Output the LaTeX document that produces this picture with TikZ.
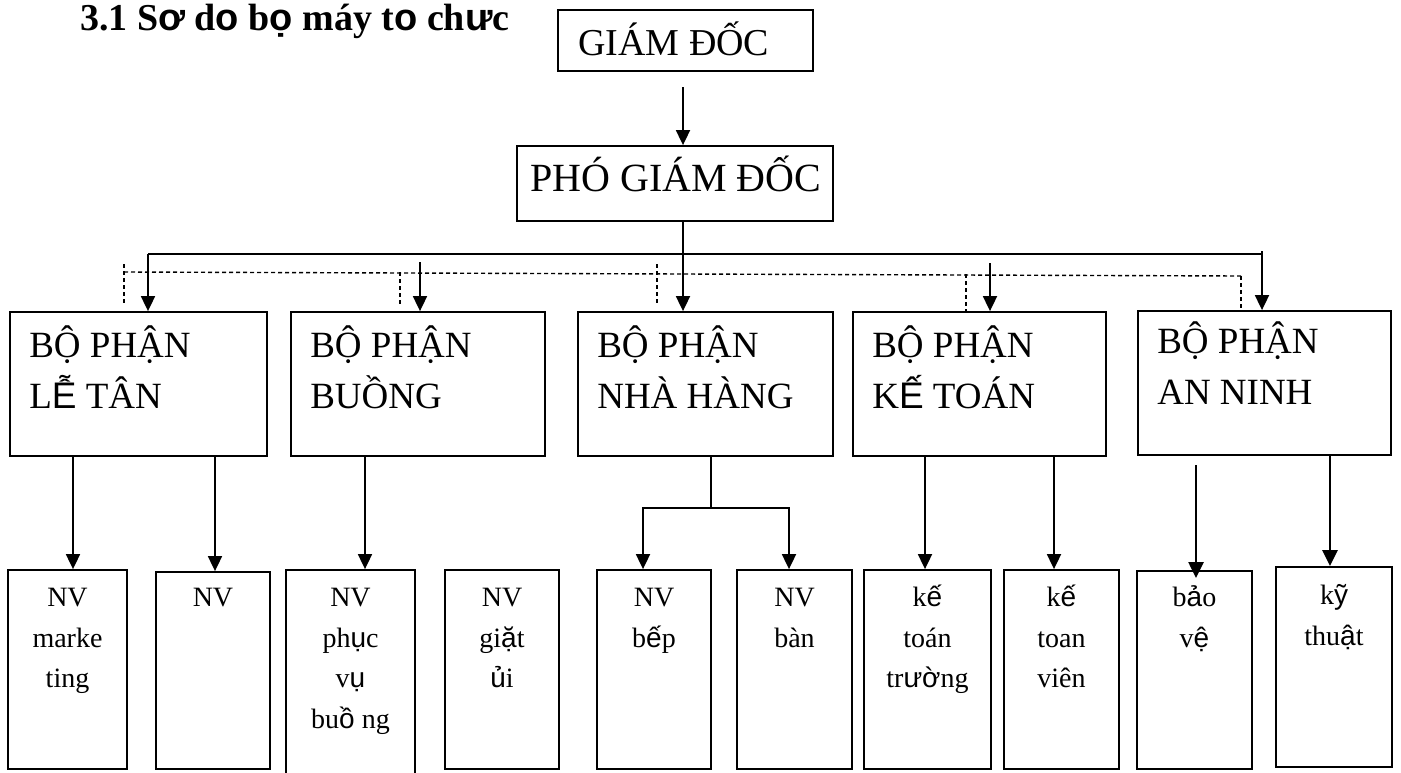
\documentclass[tikz,border=0pt]{standalone}
\usepackage{fontspec}
\setmainfont{Liberation Serif}
\newfontfamily\fb{Liberation Sans}
\usetikzlibrary{arrows.meta,fit}

\tikzset{
  box/.style={draw, line width=1.8pt, inner sep=0pt},
  wire/.style={line width=1.8pt},
  link/.style={wire, -{Triangle[width=14pt,length=15pt]}},
  heavylink/.style={line width=2.6pt, -{Triangle[width=15pt,length=16pt]}},
  guide/.style={line width=1.4pt, dash pattern=on 4pt off 3pt},
  headtext/.style={font=\fontsize{38}{46}\selectfont, inner sep=0pt, anchor=base west},
  dept/.style={font=\fontsize{37}{51}\selectfont, inner sep=0pt, anchor=north west, align=left},
  staff/.style={font=\fontsize{28}{40.5}\selectfont, inner sep=0pt, anchor=north, align=center},
}

\begin{document}
\begin{tikzpicture}[x=1pt,y=-1pt]
\useasboundingbox (0,0) rectangle (1401,772);

% heading
\node[font=\fontsize{38}{44}\selectfont\bfseries, anchor=base west, inner sep=0pt] (title) at (80,30)
  {3.1 S{\fb ơ} d{\fb o} b{\fb ọ} máy t{\fb o} ch{\fb ư}c};

% management
\node[box, fit={(558,10) (813,71)}] (gd) {};
\node[headtext] (gdt) at (578,55) {GIÁM ĐỐC};
\node[box, fit={(517,146) (833,221)}] (pgd) {};
\node[headtext, font=\fontsize{40}{46}\selectfont] (pgdt) at (530,191) {PHÓ GIÁM ĐỐC};

% departments
\node[box, fit={(10,312) (267,456)}]   (d1) {};
\node[box, fit={(291,312) (545,456)}]  (d2) {};
\node[box, fit={(578,312) (833,456)}]  (d3) {};
\node[box, fit={(853,312) (1106,456)}] (d4) {};
\node[box, fit={(1138,311) (1391,455)}] (d5) {};
\node[dept] (d1t) at ([shift={(20,10)}]d1.north west) {\strut BỘ PHẬN\\L{\fb Ễ} TÂN};
\node[dept] (d2t) at ([shift={(20,10)}]d2.north west) {\strut BỘ PHẬN\\BUỒNG};
\node[dept] (d3t) at ([shift={(20,10)}]d3.north west) {\strut BỘ PHẬN\\NHÀ HÀNG};
\node[dept] (d4t) at ([shift={(20,10)}]d4.north west) {\strut BỘ PHẬN\\K{\fb Ế} TOÁN};
\node[dept] (d5t) at ([shift={(20,7)}]d5.north west) {\strut BỘ PHẬN\\AN NINH};

% staff
\node[box, fit={(8,570) (127,769)}]     (sA) {};
\node[box, fit={(156,572) (270,769)}]   (sB) {};
\node[box, fit={(286,570) (415,780)}]   (sC) {};
\node[box, fit={(445,570) (559,769)}]   (sD) {};
\node[box, fit={(597,570) (711,769)}]   (sE) {};
\node[box, fit={(737,570) (852,769)}]   (sF) {};
\node[box, fit={(864,570) (991,769)}]   (sG) {};
\node[box, fit={(1004,570) (1119,769)}] (sH) {};
\node[box, fit={(1137,571) (1252,769)}] (sI) {};
\node[box, fit={(1276,567) (1392,767)}] (sJ) {};
\node[staff] (sAt) at ([yshift=-9pt]sA.north) {\strut NV\\marke\\ting};
\node[staff] (sBt) at ([yshift=-7pt]sB.north) {\strut NV};
\node[staff] (sCt) at ([yshift=-9pt]sC.north) {\strut NV\\ph{\fb ụ}c\\v{\fb ụ}\\bu{\fb ồ} ng};
\node[staff] (sDt) at ([yshift=-9pt]sD.north) {\strut NV\\gi{\fb ặ}t\\{\fb ủ}i};
\node[staff] (sEt) at ([yshift=-9pt]sE.north) {\strut NV\\b{\fb ế}p};
\node[staff] (sFt) at ([yshift=-9pt]sF.north) {\strut NV\\bàn};
\node[staff] (sGt) at ([yshift=-9pt]sG.north) {\strut k{\fb ế}\\toán\\tr{\fb ườ}ng};
\node[staff] (sHt) at ([yshift=-9pt]sH.north) {\strut k{\fb ế}\\toan\\viên};
\node[staff] (sIt) at ([yshift=-8pt]sI.north) {\strut b{\fb ả}o\\v{\fb ệ}};
\node[staff] (sJt) at ([yshift=-10pt]sJ.north) {\strut k{\fb ỹ}\\thu{\fb ậ}t};

% top of the chart
\coordinate (gdout) at (683,87);
\draw[link] (gdout) -- (gdout |- pgd.north);
\coordinate (hub) at (683,254);
\coordinate (busL) at (148,254);
\coordinate (busR) at (1262,254);
\draw[wire] (pgd.south -| hub) -- (hub);
\draw[wire] (busL) -- (busR);
\draw[link] (hub) -- (hub |- d3.north);
\draw[link] (busL) -- (busL |- d1.north);
\draw[link] ([yshift=3pt]busR) -- (busR |- d5.north);
\coordinate (s2) at (420,262);
\draw[link] (s2) -- (s2 |- d2.north);
\coordinate (s4) at (990,263);
\draw[link] (s4) -- (s4 |- d4.north);

% dashed guide line above the departments
\coordinate (gL) at (124,272);
\coordinate (gR) at (1241,276);
\draw[guide] (gL) -- (gR);
\foreach \x/\a/\b in {124/264/305, 400/272/305, 657/264/305, 966/274/312, 1241/276/308}
  \draw[guide] (\x,\a) -- (\x,\b);

% departments to staff
\coordinate (tA) at (73,0);
\coordinate (tB) at (215,0);
\coordinate (tC) at (365,0);
\coordinate (tG) at (925,0);
\coordinate (tH) at (1054,0);
\coordinate (tJ) at (1330,0);
\draw[link] (d1.south -| tA) -- (sA.north -| tA);
\draw[link] (d1.south -| tB) -- (sB.north -| tB);
\draw[link] (d2.south -| tC) -- (sC.north -| tC);
\draw[link] (d4.south -| tG) -- (sG.north -| tG);
\draw[link] (d4.south -| tH) -- (sH.north -| tH);

\coordinate (nhj) at (711,508);
\coordinate (nhL) at (643,508);
\coordinate (nhR) at (789,508);
\draw[wire] (d3.south -| nhj) -- (nhj);
\draw[link] (nhj) -- (nhL) -- (nhL |- sE.north);
\draw[link] (nhj) -- (nhR) -- (nhR |- sF.north);

\coordinate (bvTop) at (1196,465);
\coordinate (bvTip) at (1196,578);
\draw[heavylink] (bvTop) -- (bvTip);
\draw[heavylink] (d5.south -| tJ) -- (sJ.north -| tJ);
\end{tikzpicture}
\end{document}
